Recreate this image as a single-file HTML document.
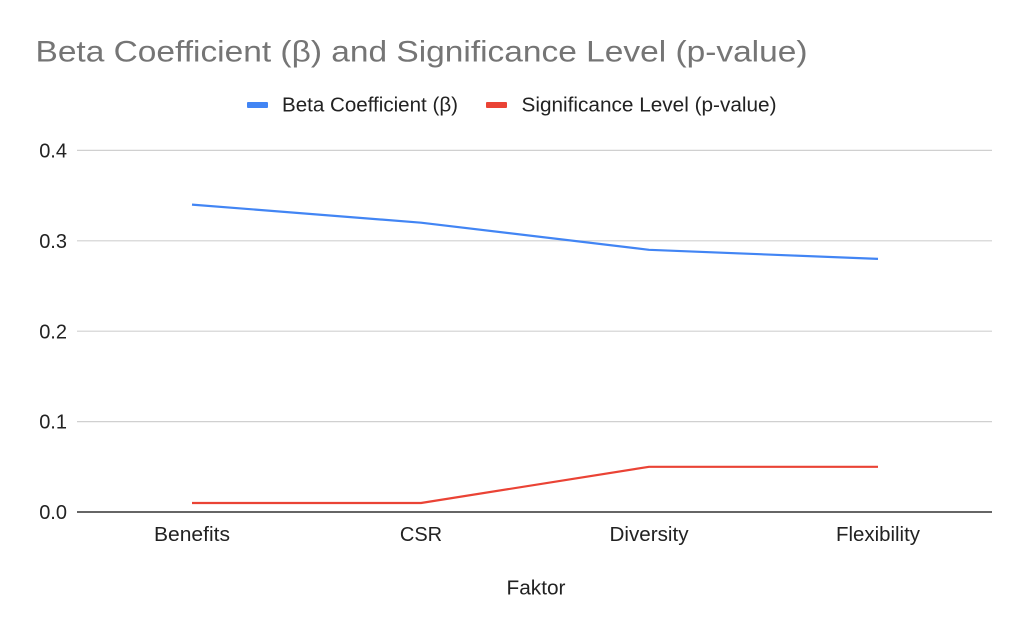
<!DOCTYPE html>
<html><head><meta charset="utf-8"><style>
html,body{margin:0;padding:0;background:#fff;}
svg{display:block;}
text{font-family:"Liberation Sans",Arial,sans-serif;}
</style></head><body>
<svg width="1024" height="633" viewBox="0 0 1024 633" xmlns="http://www.w3.org/2000/svg">
<rect width="1024" height="633" fill="#fff"/>
<text x="35.5" y="61.7" font-size="30" fill="#757575" textLength="772" lengthAdjust="spacingAndGlyphs">Beta Coefficient (β) and Significance Level (p-value)</text>
<rect x="247" y="102" width="21" height="6" rx="1" fill="#4285f4"/>
<text x="282" y="111.7" font-size="20" fill="#222" textLength="176" lengthAdjust="spacingAndGlyphs">Beta Coefficient (β)</text>
<rect x="486" y="102" width="21" height="6" rx="1" fill="#ea4335"/>
<text x="521.5" y="111.7" font-size="20" fill="#222" textLength="255" lengthAdjust="spacingAndGlyphs">Significance Level (p-value)</text>
<g stroke="#d0d0d0" stroke-width="1.2">
<line x1="77" y1="150.4" x2="992" y2="150.4"/>
<line x1="77" y1="240.8" x2="992" y2="240.8"/>
<line x1="77" y1="331.2" x2="992" y2="331.2"/>
<line x1="77" y1="421.6" x2="992" y2="421.6"/>
</g>
<line x1="77" y1="512" x2="992" y2="512" stroke="#333" stroke-width="1.5"/>
<g font-size="20" fill="#222" text-anchor="end">
<text x="67" y="157.5">0.4</text>
<text x="67" y="248">0.3</text>
<text x="67" y="338.5">0.2</text>
<text x="67" y="428.5">0.1</text>
<text x="67" y="519">0.0</text>
</g>
<g font-size="20" fill="#222" text-anchor="middle">
<text x="192" y="541" textLength="76" lengthAdjust="spacingAndGlyphs">Benefits</text>
<text x="421" y="541">CSR</text>
<text x="649" y="541" textLength="79" lengthAdjust="spacingAndGlyphs">Diversity</text>
<text x="878" y="541" textLength="84" lengthAdjust="spacingAndGlyphs">Flexibility</text>
<text x="536" y="594.3" textLength="59" lengthAdjust="spacingAndGlyphs">Faktor</text>
</g>
<polyline points="192,204.6 421,222.7 649,249.8 878,258.9" fill="none" stroke="#4285f4" stroke-width="2.2" stroke-linejoin="round"/>
<polyline points="192,503 421,503 649,466.8 878,466.8" fill="none" stroke="#ea4335" stroke-width="2.2" stroke-linejoin="round"/>
</svg>
</body></html>
